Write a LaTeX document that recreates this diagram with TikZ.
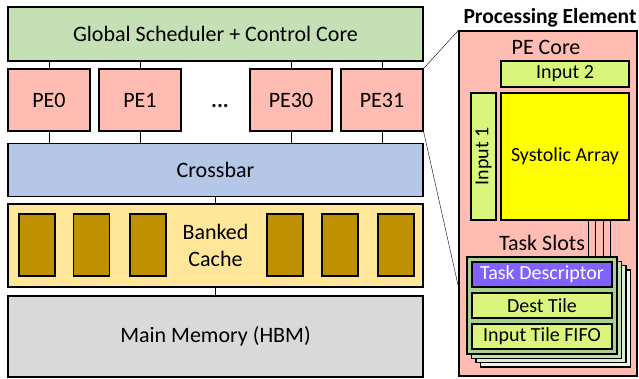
\documentclass[tikz,border=0pt]{standalone}
\usepackage{fontspec}
\setmainfont{Carlito}
\usepackage{tikz}
\usetikzlibrary{positioning}

\definecolor{schedgreen}{HTML}{C5E0B4}
\definecolor{pepink}{HTML}{FFBCB2}
\definecolor{xbarblue}{HTML}{B4C7E7}
\definecolor{cacheyellow}{HTML}{FFE699}
\definecolor{bankbrown}{HTML}{BF9000}
\definecolor{memgray}{HTML}{D9D9D9}
\definecolor{inlime}{HTML}{D9F57C}
\definecolor{systyellow}{HTML}{FFFF00}
\definecolor{slotgreen}{HTML}{A9D18E}
\definecolor{descpurple}{HTML}{7F62FF}

\begin{document}
\begin{tikzpicture}[
        x=1pt, y=-1pt,
        font=\fontsize{22}{27}\selectfont,
        blk/.style = {draw, line width=1.2pt, inner sep=0pt, align=center},
        inner/.style = {blk, font=\fontsize{20}{24}\selectfont},
        pebox/.style = {blk, fill=pepink, minimum width=82, minimum height=62},
        bank/.style = {draw, line width=1.2pt, fill=bankbrown, minimum width=36, minimum height=62, inner sep=0pt},
        slot/.style = {draw, line width=1.2pt, minimum width=150, minimum height=97, inner sep=0pt},
        field/.style = {inner, fill=inlime, minimum width=140, minimum height=25},
        wire/.style = {line width=1pt}
        ]
    \useasboundingbox (0,0) rectangle (639,379);

    % left: chip
    \node[blk, fill=schedgreen, minimum width=415, minimum height=54] (sched) at (215.5,34) {Global Scheduler + Control Core};
    \node[pebox] (pe0) at (49,100) {PE0};
    \node[pebox] (pe1) at (140,100) {PE1};
    \node[pebox] (pe30) at (291,100) {PE30};
    \node[pebox] (pe31) at (382,100) {PE31};
    \node[font=\fontsize{22}{27}\selectfont\bfseries] (dots) at (220,106) {...};
    \node[blk, fill=xbarblue, minimum width=415, minimum height=53] (xbar) at (215.5,170) {Crossbar};
    \node[blk, fill=cacheyellow, minimum width=415, minimum height=83] (cache) at (215.5,245.5) {Banked\\Cache};
    \foreach \bx [count=\i] in {37,91.5,148,285,340,396}
        \node[bank] (bank\i) at (\bx,245) {};
    \node[blk, fill=memgray, minimum width=415, minimum height=81] (mem) at (215.5,336.5) {Main Memory (HBM)};

    % wires
    \foreach \p in {pe0,pe1,pe30,pe31} {
        \draw[wire] (\p.north) -- (\p.north |- sched.south);
        \draw[wire] (\p.south) -- (\p.south |- xbar.north);
    }
    \draw[wire] (xbar.south) -- (cache.north);
    \draw[wire] (cache.south) -- (mem.north);

    % right: one PE
    \node[font=\fontsize{21.5}{24}\selectfont\bfseries] (petitle) at (550,18) {Processing Element};
    \node[blk, fill=pepink, minimum width=178, minimum height=345] (pe) at (548,203.5) {};
    \coordinate (zoomlo) at (458,285);
    \draw (pe31.north east) -- (pe.north west);
    \draw (pe31.south east) -- (zoomlo);
    \node (corelbl) at (546,47) {PE Core};
    \node[inner, fill=inlime, minimum width=128, minimum height=26] (in2) at (565,74) {Input 2};
    \node[inner, fill=inlime, minimum width=25, minimum height=127] (in1) at (483.5,156.5) {};
    \node[rotate=90, font=\fontsize{20}{24}\selectfont] at (in1) {Input 1};
    \node[inner, fill=systyellow, minimum width=128, minimum height=127] (syst) at (565,156.5) {Systolic Array};
    \node (slotlbl) at (542,243) {Task Slots};

    % task slot stack
    \foreach \k/\sx/\col in {3/610/slotgreen!20, 2/603/slotgreen!40, 1/595/slotgreen!70, 0/588/slotgreen} {
        \node[slot, fill=\col] (slot\k) at (542+4.5*\k,305.5+4.3*\k) {};
        \draw[wire] (\sx,220) -- (\sx,0 |- slot\k.north);
    }
    \foreach \k/\col in {3/slotgreen!20, 2/slotgreen!40, 1/slotgreen!70}
        \node[slot, fill=\col] at (slot\k) {};
    \node[slot, fill=slotgreen] (slot0) at (542,305.5) {};
    \node[field, fill=descpurple, text=white] (desc) at (542,274.5) {Task Descriptor};
    \node[field] (dest) at (542,305.5) {Dest Tile};
    \node[field] (fifo) at (542,336.5) {Input Tile FIFO};

\end{tikzpicture}
\end{document}
